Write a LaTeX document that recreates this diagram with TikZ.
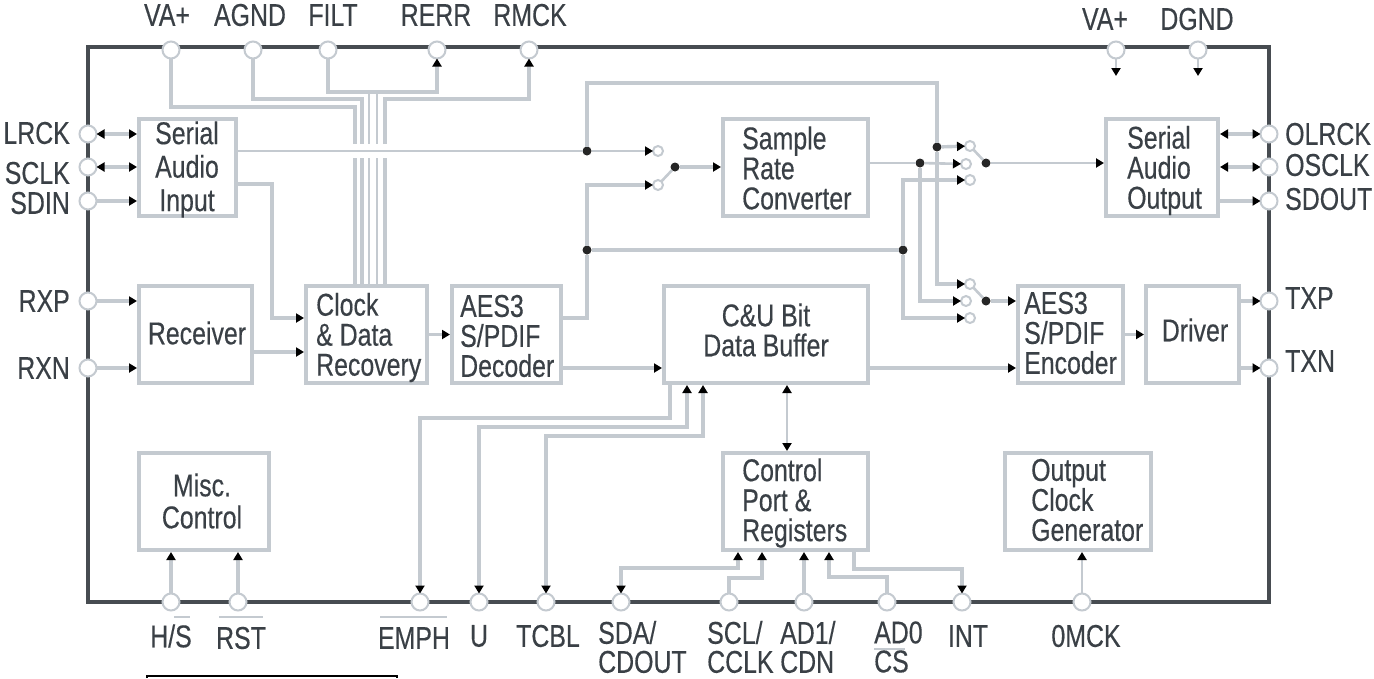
\documentclass[tikz,border=0pt]{standalone}
\usepackage{fontspec}
\usetikzlibrary{arrows.meta}
\newfontfamily\labfont[FakeStretch=0.79,FakeBold=0.35]{Liberation Sans}
\definecolor{wirec}{HTML}{C4CAD0}
\definecolor{framec}{HTML}{474C51}
\definecolor{textc}{HTML}{3A4046}
\tikzset{
  tipa/.tip={Triangle[length=8pt,width=9pt,color=black,fill=black]},
  wire/.style={draw=wirec,line width=3.4pt,line join=miter},
  thin wire/.style={draw=wirec,line width=2.6pt},
  arr/.style={-{tipa}},
  barr/.style={{tipa}-{tipa}},
  blk/.style={draw=wirec,line width=4pt,inner sep=0pt,outer sep=2pt,fill=white},
  pinc/.style={circle,draw=wirec,line width=2pt,fill=white,minimum size=17pt,inner sep=0pt,outer sep=0pt},
  spin/.style={circle,draw=wirec,line width=2pt,fill=white,minimum size=10pt,inner sep=0pt,outer sep=0pt},
  jn/.style={circle,fill=black!85,minimum size=9pt,inner sep=0pt,outer sep=0pt},
  txt/.style={font=\labfont\fontsize{31.5}{30}\selectfont,text=textc,inner sep=0pt,align=center},
  ltxt/.style={txt,align=left,anchor=west},
  ovbar/.style={draw=wirec,line width=2.5pt},
}
\begin{document}
\begin{tikzpicture}[x=1pt,y=-1pt]
\useasboundingbox (0,0) rectangle (1374,678);
\fill[white] (0,0) rectangle (1374,678);
% frame
\node[draw=framec,line width=4pt,minimum width=1181pt,minimum height=555pt,inner sep=0pt] (chip) at (678.5,324.5) {};
% cut-off box at the bottom
\draw[black,line width=2pt] (147,678) -- (147,676) -- (397,676) -- (397,678);

% pins
\foreach \n/\x in {VAa/171,AGND/253,FILT/328,RERR/437,RMCK/529,VAb/1116,DGND/1198}
  \node[pinc] (p\n) at (\x,50) {};
\foreach \n/\y in {LRCK/134,SCLK/167,SDIN/201,RXP/301,RXN/368}
  \node[pinc] (p\n) at (88,\y) {};
\foreach \n/\y in {OLRCK/134,OSCLK/167,SDOUT/201,TXP/301,TXN/368}
  \node[pinc] (p\n) at (1269,\y) {};
\foreach \n/\x in {HS/171,RST/238,EMPH/420,U/479,TCBL/546,SDA/621,SCL/729,ADa/804,ADb/887,INT/962,OMCK/1082}
  \node[pinc] (p\n) at (\x,602) {};

% blocks
\node[blk,minimum width=97pt,minimum height=97pt] (sai) at (187.5,167.5) {};
\node[blk,minimum width=113pt,minimum height=97pt] (rcv) at (195.5,334.5) {};
\node[blk,minimum width=121pt,minimum height=97pt] (clk) at (366.5,334.5) {};
\node[blk,minimum width=109pt,minimum height=97pt] (dec) at (506.5,334.5) {};
\node[blk,minimum width=204pt,minimum height=97pt] (cub) at (766,334.5) {};
\node[blk,minimum width=145pt,minimum height=97pt] (src) at (795.5,167.5) {};
\node[blk,minimum width=112pt,minimum height=97pt] (sao) at (1162,167.5) {};
\node[blk,minimum width=105pt,minimum height=97pt] (enc) at (1070.5,334.5) {};
\node[blk,minimum width=93pt,minimum height=97pt] (drv) at (1192.5,334.5) {};
\node[blk,minimum width=130pt,minimum height=97pt] (misc) at (204,501.5) {};
\node[blk,minimum width=145pt,minimum height=97pt] (ctl) at (795.5,501.5) {};
\node[blk,minimum width=146pt,minimum height=97pt] (ocg) at (1078,501.5) {};

% block texts
\node[txt] (tsai) at (187,169.5) {Serial\\[3.5pt]Audio\\[3.5pt]Input};
\node[txt] (trcv) at (197,333) {Receiver};
\node[ltxt] (tclk) at (316,337.5) {Clock\\\& Data\\Recovery};
\node[ltxt] (tdec) at (460,336) {AES3\\S/PDIF\\Decoder};
\node[txt] (tcub) at (766,330) {C\&U Bit\\Data Buffer};
\node[ltxt] (tsrc) at (742,168) {Sample\\Rate\\Converter};
\node[ltxt] (tsao) at (1127,170.5) {Serial\\Audio\\Output};
\node[ltxt] (tenc) at (1024,333) {AES3\\S/PDIF\\Encoder};
\node[txt] (tdrv) at (1195,330) {Driver};
\node[txt] (tmisc) at (202,501) {Misc.\\[2pt]Control};
\node[ltxt] (tctl) at (742,503) {Control\\Port \&\\Registers};
\node[ltxt] (tocg) at (1031,500) {Output\\Clock\\Generator};

% junctions and switch contacts
\node[jn] (jA) at (587,151) {};
\node[jn] (jB) at (587,250) {};
\node[jn] (jC) at (903,250) {};
\node[jn] (jD) at (937,147) {};
\node[jn] (jE) at (920,163) {};
\node[jn] (jS) at (675,167) {};
\node[jn] (jU) at (986,163) {};
\node[jn] (jL) at (986,301) {};
\node[spin] (sA) at (658,151) {};
\node[spin] (sB) at (658,185) {};
\node[spin] (uA) at (970,146) {};
\node[spin] (uB) at (966,164) {};
\node[spin] (uC) at (970,180) {};
\node[spin] (lA) at (970,284) {};
\node[spin] (lB) at (966,301) {};
\node[spin] (lC) at (970,318) {};

% routing points
\coordinate (wVA) at (355,107);
\coordinate (wAG) at (362,99);
\coordinate (wFI) at (369,92);
\coordinate (wRE) at (377,92);
\coordinate (wRM) at (385,99);
\coordinate (gapT) at (0,144);
\coordinate (gapB) at (0,158);

% clock bus
\draw[wire] (pVAa) |- (wVA) -- (wVA |- gapT);
\draw[wire] (wVA |- gapB) -- (wVA |- clk.north);
\draw[wire] (pAGND) |- (wAG) -- (wAG |- gapT);
\draw[wire] (wAG |- gapB) -- (wAG |- clk.north);
\draw[wire,arr] (pFILT) |- (wFI) -| (pRERR);
\draw[thin wire] (wFI) -- (wFI |- gapT);
\draw[thin wire] (wFI |- gapB) -- (wFI |- clk.north);
\draw[thin wire] (wRE) -- (wRE |- gapT);
\draw[thin wire] (wRE |- gapB) -- (wRE |- clk.north);
\draw[wire,arr] (wRM |- gapT) -- (wRM) -| (pRMCK);
\draw[wire] (wRM |- gapB) -- (wRM |- clk.north);

% pins on the left
\draw[wire,barr] (pLRCK) -- (pLRCK -| sai.west);
\draw[wire,barr] (pSCLK) -- (pSCLK -| sai.west);
\draw[wire,arr] (pSDIN) -- (pSDIN -| sai.west);
\draw[wire,arr] (pRXP) -- (pRXP -| rcv.west);
\draw[wire,arr] (pRXN) -- (pRXN -| rcv.west);

% serial audio input
\draw[thin wire] (sai.east |- jA) -- (jA);
\draw[thin wire,arr] (jA) -- (sA);
\coordinate (wSI) at (272,184);
\draw[wire,arr] (sai.east |- wSI) -- (wSI) |- (clk.west |- 0,318);
\coordinate (wRC) at (0,352);
\draw[wire,arr] (rcv.east |- wRC) -- (clk.west |- wRC);
\draw[wire,arr] (clk.east) -- (dec.west);

% decoder
\coordinate (wDO) at (0,318);
\draw[wire] (dec.east |- wDO) -| (jB);
\draw[wire,arr] (jB) |- (sB);
\draw[wire] (jB) -- (jC);
\draw[wire,arr] (dec.east |- 0,368) -- (cub.west |- 0,368);

% left switch to sample rate converter
\draw[thin wire] (sB) -- (jS);
\draw[wire,arr] (jS) -- (src.west |- jS);

% upper feed
\draw[wire] (jA) |- (jD |- 0,83) -- (jD);
\draw[wire,arr] (jD) -- (uA);
\draw[wire,arr] (jD) |- (lA);

% sample rate converter output
\draw[thin wire] (src.east |- jE) -- (jE);
\draw[thin wire,arr] (jE) -- (uB);
\draw[wire,arr] (jE) |- (lB);

% decoder bypass
\draw[wire,arr] (jC) |- (uC);
\draw[wire,arr] (jC) |- (lC);

% output switches
\draw[thin wire] (uA) -- (jU);
\draw[thin wire] (lA) -- (jL);
\draw[thin wire,arr] (jU) -- (sao.west |- jU);
\draw[wire,arr] (jL) -- (enc.west |- jL);
\draw[wire,arr] (cub.east |- 0,368) -- (enc.west |- 0,368);
\draw[wire,arr] (enc.east) -- (drv.west);

% pins on the right
\draw[wire,barr] (sao.east |- pOLRCK) -- (pOLRCK);
\draw[wire,barr] (sao.east |- pOSCLK) -- (pOSCLK);
\draw[wire,arr] (sao.east |- pSDOUT) -- (pSDOUT);
\draw[wire,arr] (drv.east |- pTXP) -- (pTXP);
\draw[wire,arr] (drv.east |- pTXN) -- (pTXN);
\coordinate (sVA) at (1116,76);
\coordinate (sDG) at (1198,76);
\draw[thin wire,arr] (pVAb) -- (sVA);
\draw[thin wire,arr] (pDGND) -- (sDG);

% buffer connections
\draw[wire,arr] (cub.south -| 670,0) |- (pEMPH |- 0,418) -- (pEMPH);
\draw[wire,barr] (pU) |- (687,427) -- (cub.south -| 687,0);
\draw[wire,barr] (pTCBL) |- (703,436) -- (cub.south -| 703,0);
\draw[thin wire,barr] (cub.south -| 787,0) -- (ctl.north -| 787,0);

% bottom pins
\draw[wire,arr] (pHS) -- (pHS |- misc.south);
\draw[wire,arr] (pRST) -- (pRST |- misc.south);
\draw[thin wire,arr] (pOMCK) -- (pOMCK |- ocg.south);
\draw[wire,barr] (ctl.south -| 738,0) |- (pSDA |- 0,568) -- (pSDA);
\draw[wire,arr] (pSCL) |- (762,578) -- (ctl.south -| 762,0);
\draw[wire,arr] (pADa) -- (pADa |- ctl.south);
\draw[wire,arr] (pADb) |- (829,577) -- (ctl.south -| 829,0);
\draw[wire,arr] (ctl.south -| 854,0) |- (pINT |- 0,569) -- (pINT);

% pin labels
\node[txt] (lVAa) at (167,15) {VA+};
\node[txt] (lAGND) at (250,15) {AGND};
\node[txt] (lFILT) at (333,15) {FILT};
\node[txt] (lRERR) at (436,15) {RERR};
\node[txt] (lRMCK) at (530,15) {RMCK};
\node[txt] (lVAb) at (1105,19) {VA+};
\node[txt] (lDGND) at (1197,19) {DGND};
\node[txt,anchor=east] (lLRCK) at (70,133) {LRCK};
\node[txt,anchor=east] (lSCLK) at (70,173) {SCLK};
\node[txt,anchor=east] (lSDIN) at (70,203) {SDIN};
\node[txt,anchor=east] (lRXP) at (70,301) {RXP};
\node[txt,anchor=east] (lRXN) at (70,368) {RXN};
\node[ltxt] (lOLRCK) at (1285,134) {OLRCK};
\node[ltxt] (lOSCLK) at (1285,165) {OSCLK};
\node[ltxt] (lSDOUT) at (1285,199) {SDOUT};
\node[ltxt] (lTXP) at (1285,298) {TXP};
\node[ltxt] (lTXN) at (1285,361) {TXN};
\node[txt] (lHS) at (171,636) {H/S};
\node[txt] (lRST) at (241,638) {RST};
\node[txt] (lEMPH) at (414,638) {EMPH};
\node[txt] (lU) at (479,636) {U};
\node[txt] (lTCBL) at (548,636) {TCBL};
\node[ltxt] (lSDA) at (598,647) {SDA/\\[-1pt]CDOUT};
\node[ltxt] (lSCL) at (707,647) {SCL/\\[-1pt]CCLK};
\node[ltxt] (lAD1) at (780,647) {AD1/\\[-1pt]CDN};
\node[ltxt] (lAD0) at (874,647) {AD0\\[-1pt]CS};
\node[txt] (lINT) at (968,636) {INT};
\node[txt] (lOMCK) at (1086,636) {0MCK};
% overbars
\draw[ovbar] (174,617) -- (190,617);
\draw[ovbar] (219,617) -- (263,617);
\draw[ovbar] (380,617) -- (447,617);
\draw[ovbar] (874,649) -- (905,649);
\end{tikzpicture}
\end{document}
